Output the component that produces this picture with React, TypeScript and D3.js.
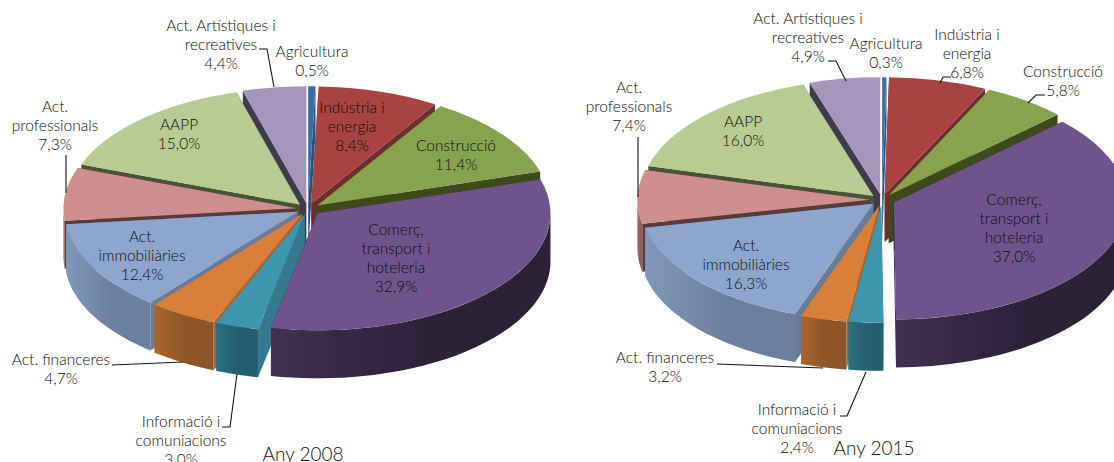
import * as d3 from 'd3';
import React from 'react';

// data
const categories = [
  'Agricultura',
  'Indústria i energia',
  'Construcció',
  'Comerç, transport i hoteleria',
  'Informació i comuniacions',
  'Act. financeres',
  'Act. immobiliàries',
  'Act. professionals',
  'AAPP',
  'Act. Artístiques i recreatives',
];
const labelLines = [
  ['Agricultura'],
  ['Indústria i', 'energia'],
  ['Construcció'],
  ['Comerç,', 'transport i', 'hoteleria'],
  ['Informació i', 'comuniacions'],
  ['Act. financeres'],
  ['Act.', 'immobiliàries'],
  ['Act.', 'professionals'],
  ['AAPP'],
  ['Act. Artístiques i', 'recreatives'],
];
const values2008 = [0.5, 8.4, 11.4, 32.9, 3.0, 4.7, 12.4, 7.3, 15.0, 4.4];
const values2015 = [0.3, 6.8, 5.8, 37.0, 2.4, 3.2, 16.3, 7.4, 16.0, 4.9];

// colours, same order as categories
const topColors = ['#3d6fa5', '#a84342', '#88a34d', '#6f548b', '#3e96ae', '#d8803a', '#8ea5cc', '#ce8f8e', '#b7cb92', '#a595ba'];
const wallLight = ['#2f5680', '#7f3232', '#667a3a', '#42304f', '#2e7083', '#a8652d', '#8297b8', '#9a6b6b', '#8a9a6e', '#7c708c'];
const wallDark = ['#2a4d72', '#702c2c', '#5a6c33', '#2b2238', '#235f6e', '#8f5526', '#6c7f9c', '#8a5f5f', '#7a8a60', '#6e637c'];
const cutColors = ['#2c527c', '#6d2f2e', '#3c4a1c', '#2d2338', '#35798f', '#a8652d', '#6a7b96', '#5a3a3a', '#4a5236', '#3f3a4c'];

// label layout: [center x, first baseline]
const layout2008 = [
  [312, 57], [352, 113], [456, 151], [396, 235], [181, 427],
  [61, 365], [142, 242], [55, 112], [179, 130], [221, 31],
];
const layout2015 = [
  [886, 49], [967, 40], [1063, 77], [1014, 205], [797, 415],
  [665, 363], [746, 251], [629, 93], [743, 127], [808, 24],
];
const leaders2008 = [
  [[259, 49], [267, 49], [274, 87]],
  [[66, 155], [66, 193]],
  [[112, 365], [183, 362]],
  [[222, 427], [230, 427], [237, 374]],
];
const leaders2015 = [
  [[828, 61], [836, 61], [846, 81]],
  [[951, 77], [943, 77], [940, 83]],
  [[1045, 95], [1036, 95], [1028, 103]],
  [[638, 137], [638, 197]],
  [[717, 364], [823, 368]],
  [[840, 416], [847, 416], [866, 372]],
];

const width = 1114;
const height = 462;
const rx = 233;
const ry = 117;
const depth = 48;
const font = 'Lato, sans-serif';

const Pie3D = ({ id, values, cx, cy, layout, leaders, title, titleX, titleY }: any) => {
  const pie = d3.pie<number>().sort(null).value((d) => d);
  const slices = pie(values);
  const k = ry / rx;
  const largest = d3.greatestIndex(values);

  // back slices first, the big exploded one on top of its neighbours
  const backDistance = (d: any) => Math.abs((d.startAngle + d.endAngle) / 2 - Math.PI);
  const order = d3
    .sort(slices, (a: any, b: any) => d3.descending(backDistance(a), backDistance(b)))
    .filter((d) => d.index !== largest)
    .concat(slices[largest]);

  const arc = d3.arc<any>().innerRadius(0).outerRadius(rx);
  const line = d3.line();
  const rim = (a: number): [number, number] => [rx * Math.sin(a), -ry * Math.cos(a)];

  return (
    <g>
      <defs>
        {slices.map((d) => (
          <linearGradient key={d.index} id={`${id}wall${d.index}`} x1="0" x2="1" y1="0" y2="0">
            <stop offset="0" stopColor={wallLight[d.index]} />
            <stop offset="0.55" stopColor={wallDark[d.index]} />
            <stop offset="1" stopColor={wallDark[d.index]} />
          </linearGradient>
        ))}
      </defs>
      {order.map((d) => {
        const mid = (d.startAngle + d.endAngle) / 2;
        const explode = d.index === largest ? 0.055 : 0.05;
        const ox = cx + explode * rx * Math.sin(mid);
        const oy = cy - explode * ry * Math.cos(mid);

        const a0 = Math.max(d.startAngle, Math.PI / 2);
        const a1 = Math.min(d.endAngle, (3 * Math.PI) / 2);
        let wall: string | null = null;
        if (a1 > a0) {
          const steps = d3.range(0, 41).map((i) => a0 + ((a1 - a0) * i) / 40);
          const upper = steps.map(rim);
          const lower = steps.map(rim).reverse().map(([x, y]) => [x, y + depth] as [number, number]);
          wall = line(upper.concat(lower)) + 'Z';
        }
        const cut = (a: number) => {
          const [x, y] = rim(a);
          return line([[0, 0], [x, y], [x, y + depth], [0, depth]]) + 'Z';
        };
        return (
          <g key={d.index} transform={`translate(${ox},${oy})`}>
            <path d={cut(d.startAngle)} fill={cutColors[d.index]} />
            <path d={cut(d.endAngle)} fill={cutColors[d.index]} />
            {wall && <path d={wall} fill={`url(#${id}wall${d.index})`} />}
            <path d={arc(d) as string} transform={`scale(1,${k})`} fill={topColors[d.index]} />
          </g>
        );
      })}
      {leaders.map((pts: [number, number][], i: number) => (
        <path key={i} d={line(pts) as string} fill="none" stroke="#111" strokeWidth={1.1} />
      ))}
      {slices.map((d) => {
        const [x, y] = layout[d.index];
        const lines = [...labelLines[d.index], `${values[d.index].toFixed(1).replace('.', ',')}%`];
        return (
          <text key={categories[d.index]} x={x} y={y} textAnchor="middle" fontFamily={font} fontWeight={300} fontSize={15.5} fill="#0d0d0d">
            {lines.map((t, i) => (
              <tspan key={i} x={x} dy={i === 0 ? 0 : 19}>
                {t}
              </tspan>
            ))}
          </text>
        );
      })}
      <text x={titleX} y={titleY} textAnchor="middle" fontFamily={font} fontWeight={300} fontSize={19} fill="#0d0d0d">
        {title}
      </text>
    </g>
  );
};

export default function App() {
  return (
    <svg width={width} height={height} style={{ position: 'absolute', left: 0, top: 0, background: '#fff' }}>
      <Pie3D id="a" values={values2008} cx={308} cy={209} layout={layout2008} leaders={leaders2008} title="Any 2008" titleX={303} titleY={461} />
      <Pie3D id="b" values={values2015} cx={882} cy={200} layout={layout2015} leaders={leaders2015} title="Any 2015" titleX={874} titleY={455} />
    </svg>
  );
}
